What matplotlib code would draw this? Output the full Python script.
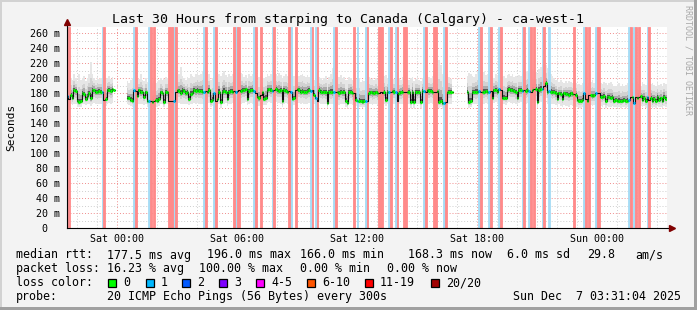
import numpy as np
import matplotlib
matplotlib.use('Agg')
import matplotlib.pyplot as plt
from matplotlib.patches import Rectangle
from matplotlib.collections import LineCollection

nan = float('nan')

# ---------------- data (5-minute steps, ms) ----------------
median_ms = [
    176, 172, 178, 174, 184, 183, 170, 168, 169, 180, 179, 172, 176, 180, 173, 184, 184, 182, 182, 183,
    182, 181, 171, 172, 184, 184, 183, 185, 184, nan, nan, nan, nan, nan, nan, nan, 174, 173, 171, 170,
    184, 183, 176, 184, 181, 182, 175, 181, 170, 169, 170, 168, 169, 171, 170, 172, 181, 180, 168, 181,
    181, 170, 169, 170, 169, 182, 184, 183, 180, 184, 183, 180, 181, 172, 179, 180, 184, 183, 184, 183,
    183, 182, 181, 183, 182, 184, 169, 171, 180, 170, 172, 182, 168, 181, 183, 182, 172, 181, 183, 182,
    183, 182, 183, 184, 183, 184, 184, 185, 172, 183, 184, 184, 183, 180, 175, 173, 178, 181, 172, 174,
    184, 185, 184, 183, 184, 185, 184, 183, 184, 169, 184, 183, 182, 183, 181, 172, 173, 184, 185, 184,
    182, 183, 182, 182, 183, 184, 183, 184, 178, 173, 170, 184, 182, 181, 182, 181, 167, 182, 182, 181,
    181, 182, 181, 180, 182, 181, 181, 170, 167, 181, 182, 180, 180, 171, 169, 170, 169, 168, 169, 170,
    169, 180, 181, 180, 180, 181, 180, 180, 181, 180, 181, 171, 182, 181, 182, 183, 182, 182, 169, 180,
    181, 182, 182, 182, 181, 182, 168, 182, 168, 182, 181, 182, 168, 183, 183, 182, 184, 183, 183, 182,
    182, 182, 183, 168, 169, 167, 167, 168, 181, 182, 182, 181, nan, nan, nan, nan, nan, nan, nan, nan,
    182, 168, 169, 182, 182, 182, 182, 183, 182, 182, 182, 183, 182, 182, 183, 173, 184, 184, 182, 186,
    184, 173, 174, 173, 184, 185, 184, 184, 183, 182, 173, 184, 184, 183, 184, 183, 184, 183, 182, 184,
    185, 186, 168, 184, 186, 186, 190, 193, 182, 183, 182, 181, 182, 180, 172, 180, 179, 172, 180, 179,
    179, 178, 180, 179, 179, 178, 171, 170, 169, 171, 180, 172, 169, 177, 177, 176, 177, 180, 180, 180,
    175, 175, 176, 169, 175, 175, 174, 175, 170, 171, 169, 170, 169, 170, 171, 169, 170, 171, 175, 175,
    167, 175, 174, 175, 176, 171, 174, 170, 175, 171, 174, 170, 172, 170, 175, 171, 173, 170, 175, 172,
]

smoke_hi_ms = [
    195, 198, 200, 197, 205, 200, 196, 205, 198, 200, 203, 196, 200, 205, 221, 205, 200, 198, 202, 199,
    200, 198, 197, 199, 200, 203, 199, 201, 198, nan, nan, nan, nan, nan, nan, nan, 196, 194, 198, 200,
    202, 205, 200, 199, 205, 198, 196, 200, 195, 193, 192, 194, 196, 193, 195, 198, 200, 197, 199, 202,
    200, 196, 195, 193, 194, 200, 202, 205, 215, 203, 200, 198, 202, 200, 206, 203, 201, 205, 208, 204,
    206, 210, 215, 212, 208, 205, 198, 200, 202, 196, 199, 205, 203, 207, 210, 204, 201, 205, 203, 206,
    205, 208, 206, 203, 207, 205, 202, 204, 200, 206, 203, 205, 200, 198, 196, 201, 203, 207, 200, 202,
    205, 203, 206, 204, 202, 205, 203, 207, 204, 200, 203, 205, 203, 201, 200, 207, 203, 205, 208, 203,
    204, 206, 203, 201, 204, 202, 200, 201, 198, 196, 199, 202, 200, 198, 200, 203, 197, 201, 205, 213,
    215, 210, 203, 201, 204, 200, 202, 198, 197, 202, 200, 198, 196, 199, 201, 200, 195, 197, 196, 198,
    197, 201, 199, 200, 198, 200, 197, 199, 203, 205, 203, 204, 200, 198, 203, 200, 199, 197, 202, 200,
    198, 201, 199, 203, 198, 197, 200, 202, 196, 199, 201, 198, 196, 200, 202, 199, 204, 201, 200, 203,
    206, 210, 215, 224, 218, 205, 203, 200, 205, 202, 199, 198, nan, nan, nan, nan, nan, nan, nan, nan,
    203, 207, 205, 203, 202, 205, 210, 208, 212, 215, 208, 204, 206, 202, 205, 203, 200, 206, 204, 207,
    205, 201, 203, 200, 204, 206, 203, 205, 202, 203, 201, 204, 203, 205, 206, 208, 210, 207, 209, 212,
    210, 208, 206, 212, 215, 218, 220, 217, 213, 208, 205, 203, 200, 198, 197, 195, 197, 195, 193, 196,
    194, 196, 195, 193, 195, 194, 190, 192, 191, 193, 195, 192, 190, 193, 195, 197, 194, 195, 196, 193,
    194, 192, 195, 193, 191, 193, 195, 192, 190, 189, 191, 193, 190, 192, 189, 191, 193, 190, 192, 194,
    193, 191, 194, 192, 190, 195, 192, 191, 193, 190, 192, 194, 191, 190, 193, 191, 192, 190, 194, 192,
]

smoke_lo_ms = [
    164, 163, 165, 164, 166, 165, 162, 161, 162, 165, 166, 164, 165, 166, 163, 166, 167, 166, 165, 166,
    166, 165, 163, 163, 166, 167, 166, 167, 166, nan, nan, nan, nan, nan, nan, nan, 165, 164, 163, 162,
    166, 165, 164, 166, 165, 166, 164, 165, 162, 161, 162, 161, 160, 162, 161, 163, 165, 166, 161, 165,
    166, 162, 161, 162, 161, 165, 166, 167, 165, 166, 166, 165, 166, 164, 165, 166, 167, 166, 167, 166,
    166, 165, 166, 167, 166, 167, 161, 163, 165, 162, 164, 166, 160, 165, 166, 167, 163, 165, 166, 167,
    166, 167, 166, 167, 166, 167, 167, 168, 164, 166, 167, 166, 167, 165, 164, 163, 165, 166, 164, 164,
    167, 168, 167, 166, 167, 168, 166, 167, 166, 161, 166, 167, 166, 167, 165, 163, 164, 167, 168, 167,
    166, 167, 166, 165, 166, 167, 166, 167, 165, 163, 162, 167, 166, 165, 166, 165, 160, 166, 165, 166,
    165, 166, 165, 164, 166, 165, 165, 162, 160, 165, 166, 164, 165, 163, 161, 162, 161, 160, 161, 162,
    161, 165, 166, 164, 165, 166, 164, 165, 166, 165, 166, 163, 166, 165, 166, 167, 166, 166, 161, 165,
    165, 166, 166, 167, 165, 166, 160, 166, 160, 166, 165, 166, 160, 167, 166, 165, 167, 166, 167, 166,
    166, 165, 166, 160, 161, 159, 160, 160, 165, 166, 166, 165, nan, nan, nan, nan, nan, nan, nan, nan,
    165, 160, 161, 166, 166, 165, 166, 167, 166, 165, 166, 167, 165, 166, 167, 164, 167, 168, 166, 168,
    167, 165, 165, 164, 167, 168, 167, 166, 167, 165, 164, 167, 168, 166, 167, 166, 167, 166, 165, 167,
    168, 169, 160, 167, 168, 169, 172, 174, 166, 167, 166, 165, 166, 164, 162, 165, 163, 162, 164, 163,
    163, 162, 164, 163, 162, 161, 161, 160, 160, 161, 164, 162, 160, 163, 164, 163, 164, 165, 166, 164,
    163, 162, 164, 160, 163, 162, 161, 163, 161, 162, 160, 161, 160, 161, 162, 160, 161, 162, 163, 164,
    159, 163, 162, 164, 163, 161, 163, 160, 163, 161, 162, 160, 161, 160, 163, 161, 162, 160, 163, 161,
]

# steps with loss (step index) -- 1/20 lost, and 11-19/20 lost
loss1_steps = [0, 21, 40, 49, 64, 82, 88, 101, 112, 123, 134, 146, 149, 160, 174, 179, 193, 197,
               214, 226, 247, 253, 259, 273, 277, 285, 289, 310, 317, 337, 340, 348]
loss_high_steps = [1, 22, 41, 50, 52, 61, 62, 63, 65, 83, 89, 100, 102, 103, 113, 116, 124, 133,
                   137, 147, 150, 161, 172, 180, 187, 188, 189, 194, 198, 202, 203, 215, 220, 221,
                   227, 248, 254, 260, 274, 278, 280, 286, 304, 311, 313, 318, 319, 338, 341, 343, 349]

y_ticks = [0, 20, 40, 60, 80, 100, 120, 140, 160, 180, 200, 220, 240, 260]
y_tick_labels = ['0  ', '20 m', '40 m', '60 m', '80 m', '100 m', '120 m', '140 m', '160 m',
                 '180 m', '200 m', '220 m', '240 m', '260 m']
x_tick_hours = [2.4822, 8.4822, 14.4822, 20.4822, 26.4822]   # hours after start (Fri 21:31:04)
x_tick_labels = ['Sat 00:00', 'Sat 06:00', 'Sat 12:00', 'Sat 18:00', 'Sun 00:00']

title = 'Last 30 Hours from starping to Canada (Calgary) - ca-west-1'
legend_rows = [
    [("median rtt:", 16), ("177.5 ms avg", 107), ("196.0 ms max", 207), ("166.0 ms min", 300),
     ("168.3 ms now", 408), ("6.0 ms sd", 507), ("29.8", 587), ("am/s", 635)],
    [("packet loss:", 16), ("16.23 % avg", 107), ("100.00 % max", 199), ("0.00 % min", 300),
     ("0.00 % now", 387)],
    [("loss color:", 16)],
    [("probe:", 16), ("20 ICMP Echo Pings (56 Bytes) every 300s", 107),
     ("Sun Dec  7 03:31:04 2025", 513)],
]
loss_labels = ['0', '1', '2', '3', '4-5', '6-10', '11-19', '20/20']
loss_colors = ['#00ff00', '#00b8ff', '#0059ff', '#7e00ff', '#ff00ff', '#ff5500', '#ff0000', '#a10000']

# ---------------- figure ----------------
W, H = 697, 310
MONO = 'DejaVu Sans Mono'
fig = plt.figure(figsize=(W / 100, H / 100), dpi=100)
fig.patch.set_facecolor('#f3f3f3')

L, R, B, T = 67, 667, 228, 27
ax = fig.add_axes([L / W, 1 - B / H, (R - L) / W, (B - T) / H])
ax.set_facecolor('white')
ax.set_xlim(0, 30)
ax.set_ylim(0, 268)
for s in ax.spines.values():
    s.set_visible(False)

step_h = 1.0 / 12
t0 = -64 / 3600.0
n = len(median_ms)
t = t0 + np.arange(n) * step_h
te = np.append(t, t[-1] + step_h)
med = np.array(median_ms, float)
hi = np.array(smoke_hi_ms, float)
lo = np.array(smoke_lo_ms, float)

# grid
hours = np.arange(0.4822, 30, 1.0)
for h in hours:
    major = any(abs(h - m) < 1e-3 for m in x_tick_hours)
    ax.axvline(h, color='#f08c8c' if major else '#cfcfcf', lw=0.7,
               ls=(0, (1, 2)), zorder=0.5)
for v in range(10, 268, 10):
    major = v % 20 == 0
    ax.axhline(v, color='#f08c8c' if major else '#cfcfcf', lw=0.7,
               ls=(0, (1, 2)), zorder=0.5)

# smoke
ext = lambda a: np.append(a, a[-1])
layers = [(1.0, '#e6e6e6'), (0.55, '#d2d2d2'), (0.3, '#ababab'), (0.12, '#555555')]
for f, c in layers:
    up = med + f * (hi - med)
    dn = med - f * (med - lo)
    ax.fill_between(te, ext(dn), ext(up), step='post', color=c, lw=0, zorder=1)

# loss bands
for i in loss1_steps:
    ax.axvspan(t[i], t[i] + step_h, color='#a6dcf5', lw=0.6, zorder=2)
for i in loss_high_steps:
    ax.axvspan(t[i], t[i] + step_h, color='#ff8a8a', lw=0.6, zorder=2)

# median line
ax.step(te, ext(med), where='post', color='#101010', lw=0.8, zorder=4)
segs, cols = [], []
high = set(loss_high_steps)
one = set(loss1_steps)
for i in range(n):
    if np.isnan(med[i]) or i in high:
        continue
    segs.append([(t[i], med[i]), (t[i] + step_h, med[i])])
    cols.append(loss_colors[1] if i in one else loss_colors[0])
ax.add_collection(LineCollection(segs, colors=cols, linewidths=2.2, zorder=5,
                                 capstyle='butt'))

# axes lines with arrows
ax.plot([0, 0], [0, 1.02], transform=ax.transAxes, color='#000000', lw=0.8,
        clip_on=False, zorder=6)
ax.plot([0, 1.007], [0, 0], transform=ax.transAxes, color='#000000', lw=0.8,
        clip_on=False, zorder=6)
ax.plot([0], [1.025], marker='^', ms=4, color='#800000', transform=ax.transAxes,
        clip_on=False, zorder=7)
ax.plot([1.008], [0], marker='>', ms=4, color='#800000', transform=ax.transAxes,
        clip_on=False, zorder=7)

ax.set_yticks(y_ticks)
ax.set_yticklabels(y_tick_labels, fontfamily=MONO, fontsize=7.2)
ax.set_xticks(x_tick_hours)
ax.set_xticklabels(x_tick_labels, fontfamily=MONO, fontsize=7.2)
ax.tick_params(axis='y', length=0, pad=5)
ax.tick_params(axis='x', length=0, pad=4)

# texts
def ftext(xp, yp, s, **kw):
    fig.text(xp / W, 1 - yp / H, s, **kw)

ftext(348, 19, title, ha='center', va='center', fontfamily=MONO, fontsize=9.5)
ftext(11, 127, 'Seconds', ha='center', va='center', rotation=90, fontfamily=MONO, fontsize=8)
ftext(688, 60, 'RRDTOOL / TOBI OETIKER', ha='center', va='center', rotation=270,
      fontfamily=MONO, fontsize=6, color='#a8a8a8')

row_y = [255, 268.5, 282.5, 296.5]
for row, yp in zip(legend_rows, row_y):
    for s, xp in row:
        ftext(xp, yp, s, ha='left', va='center', fontfamily=MONO, fontsize=8.4)

box_x = [108, 146, 182, 219, 256, 307, 365, 431]
for bx, lab, c in zip(box_x, loss_labels, loss_colors):
    fig.add_artist(Rectangle((bx / W, 1 - 286.5 / H), 7.5 / W, 7.5 / H,
                             transform=fig.transFigure, facecolor=c,
                             edgecolor='black', lw=0.9))
    ftext(bx + 15, 282.5, lab, ha='left', va='center', fontfamily=MONO, fontsize=8.4)

# frame (3D border)
fig.add_artist(Rectangle((0, 0), 1, 3 / H, transform=fig.transFigure, color='#a0a0a0', lw=0))
fig.add_artist(Rectangle((1 - 3 / W, 0), 3 / W, 1, transform=fig.transFigure, color='#a0a0a0', lw=0))
fig.add_artist(Rectangle((0, 1 - 2 / H), 1 - 3 / W, 2 / H, transform=fig.transFigure, color='#d2d2d2', lw=0))
fig.add_artist(Rectangle((0, 3 / H), 2 / W, 1 - 5 / H, transform=fig.transFigure, color='#d2d2d2', lw=0))

fig.savefig('out.png', dpi=100, facecolor=fig.get_facecolor())
